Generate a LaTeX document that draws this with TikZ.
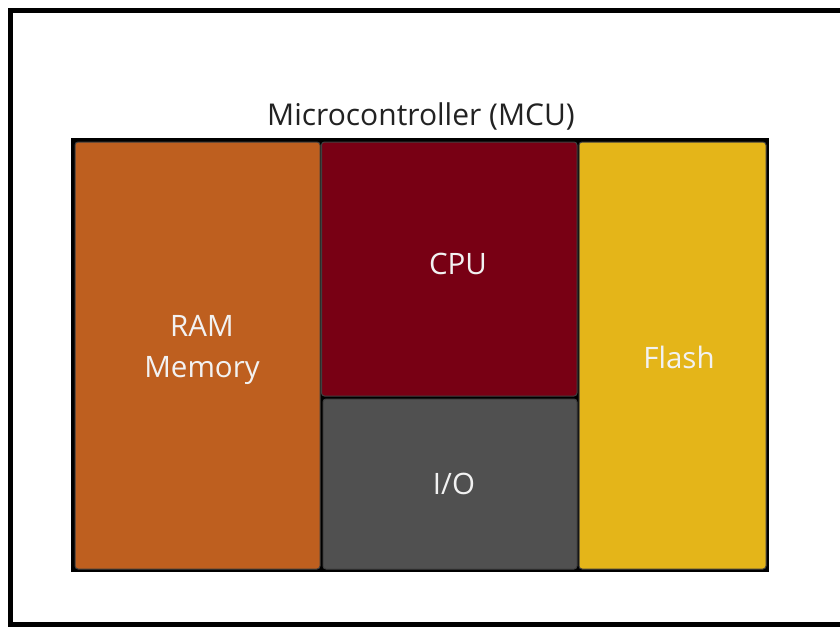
\documentclass[tikz,border=0pt]{standalone}
\usepackage{fontspec}
\setmainfont{Open Sans}
\definecolor{ramc}{HTML}{BE5F1F}
\definecolor{cpuc}{HTML}{780014}
\definecolor{ioc}{HTML}{505050}
\definecolor{flashc}{HTML}{E4B519}
\definecolor{titlec}{HTML}{222222}
\definecolor{labelc}{HTML}{F2F2F2}
\tikzset{
  block/.style={draw=black!75, line width=1pt, rounded corners=3pt},
  blocklabel/.style={text=labelc, font=\fontsize{29.5}{41}\selectfont, align=center, inner sep=0pt},
}
\begin{document}
\begin{tikzpicture}[x=1pt,y=-1pt]
\useasboundingbox (0,0) rectangle (840,626);
\begin{scope}
\clip (0,0) rectangle (840,626);
% outer frame, running off the right and bottom edges
\draw[line width=4.5pt] (10.5,10.5) rectangle (860,624.5);
\end{scope}
% MCU package
\fill[black] (71,138) rectangle (769,572);
\node[text=titlec, font=\fontsize{30}{36}\selectfont, anchor=base] (title) at (421,125) {Microcontroller (MCU)};
% functional blocks
\draw[block, fill=ramc] (75,142) rectangle (320,569);
\draw[block, fill=cpuc] (321.5,142) rectangle (577,396);
\draw[block, fill=ioc] (323,399) rectangle (577,569);
\draw[block, fill=flashc] (579,142) rectangle (766,569);
\node[blocklabel] (ram) at (202,350) {RAM\\Memory};
\node[blocklabel] (cpu) at (458,264) {CPU};
\node[blocklabel] (io) at (454,484) {I/O};
\node[blocklabel] (flash) at (679,357) {Flash};
\end{tikzpicture}
\end{document}
